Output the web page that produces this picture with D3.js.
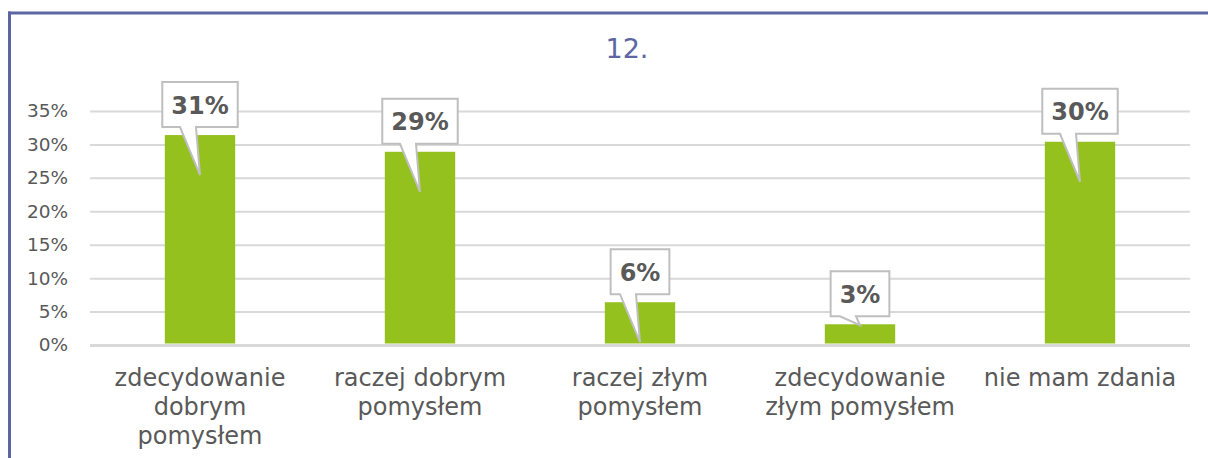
<!DOCTYPE html>
<html>
<head>
<meta charset="utf-8">
<script src="https://cdn.jsdelivr.net/npm/d3@7"></script>
<style>
  html, body { margin: 0; padding: 0; background: #fff; }
  svg { display: block; }
</style>
</head>
<body>
<svg id="chart" width="1208" height="458"></svg>
<script>
// chart data
var title = '12.';
var categories = ['zdecydowanie dobrym pomysłem', 'raczej dobrym pomysłem',
  'raczej złym pomysłem', 'zdecydowanie złym pomysłem', 'nie mam zdania'];
var values = [31.4, 28.9, 6.4, 3.1, 30.4];
var ticks = [0, 5, 10, 15, 20, 25, 30, 35];

var width = 1208,
    height = 458,
    frameColor = '#5c66a2',
    textColor = '#595959',
    gridColor = '#d9d9d9',
    barColor = '#95c11f';

var svg = d3.select('#chart');

// frame (top and left edges only visible)
svg.append('line')
    .attr('x1', 8).attr('x2', width)
    .attr('y1', 13).attr('y2', 13)
    .attr('stroke', frameColor).attr('stroke-width', 3);
svg.append('line')
    .attr('x1', 9.5).attr('x2', 9.5)
    .attr('y1', 11.5).attr('y2', height)
    .attr('stroke', frameColor).attr('stroke-width', 3);

svg.append('text')
    .attr('x', 627).attr('y', 58)
    .attr('text-anchor', 'middle')
    .attr('font-family', 'DejaVu Sans, sans-serif')
    .attr('font-size', 27)
    .attr('fill', frameColor)
    .text(title);

var x = d3.scaleBand()
    .domain(categories)
    .range([90, 1190])
    .paddingInner(0.68)
    .paddingOuter(0.34);

var y = d3.scaleLinear()
    .domain([0, 35])
    .range([345, 111]);

// gridlines + y labels
var yAxis = svg.append('g')
    .attr('transform', 'translate(90,0)')
    .call(d3.axisLeft(y)
      .tickValues(ticks)
      .tickSize(-1100)
      .tickPadding(22)
      .tickFormat(function(d) { return d + '%'; }));
yAxis.select('.domain').remove();
yAxis.selectAll('.tick line')
    .attr('stroke', gridColor)
    .attr('stroke-width', function(d) { return d === 0 ? 3 : 2; });
yAxis.selectAll('.tick text')
    .attr('fill', textColor)
    .attr('font-family', 'DejaVu Sans, sans-serif')
    .attr('font-size', 18.5);

// bars
svg.selectAll('.bar')
    .data(values)
  .enter().append('rect')
    .attr('class', 'bar')
    .attr('x', function(d, i) { return x(categories[i]); })
    .attr('y', function(d) { return y(d); })
    .attr('width', x.bandwidth())
    .attr('height', function(d) { return y(0) - y(d) - 1.5; })
    .attr('fill', barColor);

// category labels, wrapped to the category width
var labelGroup = svg.selectAll('.cat')
    .data(categories)
  .enter().append('text')
    .attr('class', 'cat')
    .attr('text-anchor', 'middle')
    .attr('font-family', 'DejaVu Sans, sans-serif')
    .attr('font-size', 24)
    .attr('fill', textColor);

labelGroup.each(function(d) {
  var text = d3.select(this),
      cx = x(d) + x.bandwidth() / 2,
      words = d.split(' '),
      lines = [],
      line = [];
  var probe = text.append('tspan');
  words.forEach(function(w) {
    var tryLine = line.concat([w]);
    probe.text(tryLine.join(' '));
    if (line.length && probe.node().getComputedTextLength() > 210) {
      lines.push(line.join(' '));
      line = [w];
    } else {
      line = tryLine;
    }
  });
  lines.push(line.join(' '));
  probe.remove();
  lines.forEach(function(l, i) {
    text.append('tspan')
        .attr('x', cx)
        .attr('y', 386 + i * 29)
        .text(l);
  });
});

// callouts
var fmt = function(d) { return Math.round(d) + '%'; };
var callouts = svg.selectAll('.callout')
    .data(values)
  .enter().append('g')
    .attr('class', 'callout');

callouts.each(function(d, i) {
  var g = d3.select(this),
      cx = x(categories[i]) + x.bandwidth() / 2,
      top = y(d),
      barH = y(0) - top,
      tipY = top + (barH > 30 ? 40 : 1),
      boxH = 45,
      boxBottom = top - 8;

  var path = g.append('path');
  var label = g.append('text')
      .attr('x', cx)
      .attr('y', boxBottom - boxH / 2 + 9)
      .attr('text-anchor', 'middle')
      .attr('font-family', 'DejaVu Sans, sans-serif')
      .attr('font-weight', 'bold')
      .attr('font-size', 24)
      .attr('fill', textColor)
      .text(fmt(d));

  var w = label.node().getComputedTextLength() + 18,
      left = cx - w / 2,
      right = cx + w / 2,
      boxTop = boxBottom - boxH;

  path.attr('d', [
      'M', left, boxTop,
      'H', right,
      'V', boxBottom,
      'H', cx - 4,
      'L', cx, tipY,
      'L', cx - 20, boxBottom,
      'H', left,
      'Z'].join(' '))
    .attr('fill', '#fff')
    .attr('stroke', '#bfbfbf')
    .attr('stroke-width', 2)
    .attr('stroke-linejoin', 'miter');
});
</script>
</body>
</html>
